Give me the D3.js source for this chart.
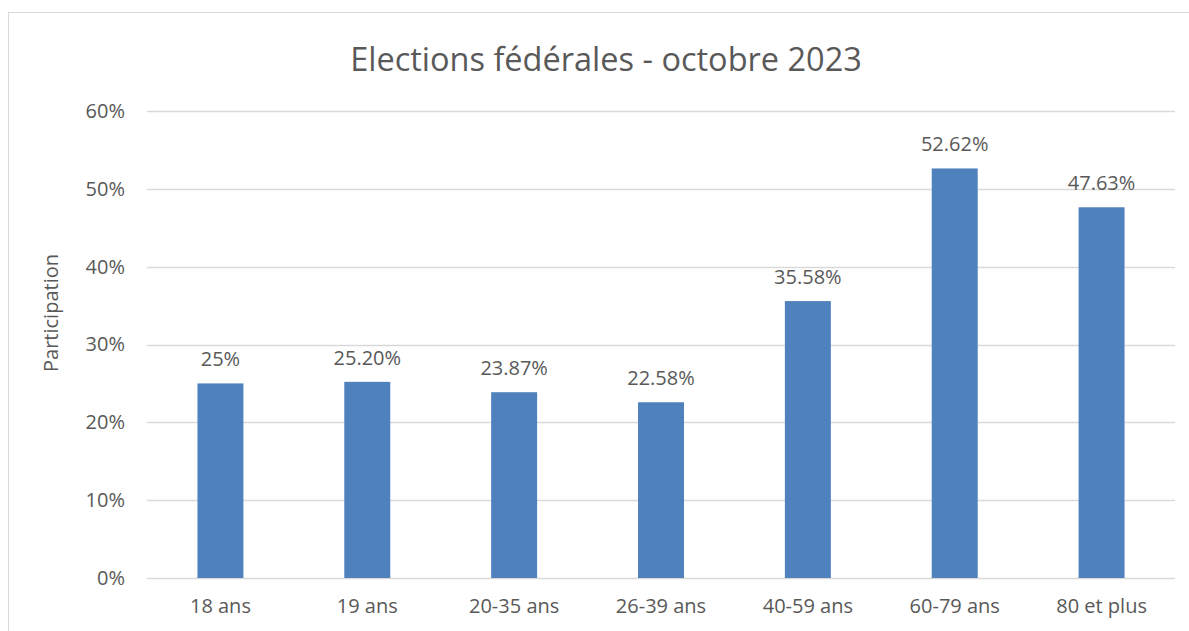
<!DOCTYPE html>
<meta charset="utf-8">
<style>
    body { margin: 0; background: #fff; }
    text { font-family: "Open Sans", sans-serif; fill: #595959; }
</style>
<div class="chart"></div>
<script src="https://cdn.jsdelivr.net/npm/d3@7"></script>
<script>
    // data
    var categories = ["18 ans", "19 ans", "20-35 ans", "26-39 ans", "40-59 ans", "60-79 ans", "80 et plus"];
    var values = [25, 25.20, 23.87, 22.58, 35.58, 52.62, 47.63];
    var labels = ["25%", "25.20%", "23.87%", "22.58%", "35.58%", "52.62%", "47.63%"];
    var yTicks = [0, 10, 20, 30, 40, 50, 60];

    var svgW = 1189, svgH = 631;
    var margin = {top: 111, right: 14, bottom: 53, left: 147};
    var width = svgW - margin.left - margin.right,
        height = svgH - margin.top - margin.bottom;

    var svg = d3.select(".chart").append("svg")
        .attr("width", svgW)
        .attr("height", svgH);

    // chart border
    svg.append("rect")
        .attr("x", 8.5).attr("y", 12.5)
        .attr("width", svgW).attr("height", svgH)
        .attr("fill", "none")
        .attr("stroke", "#d9d9d9");

    svg.append("text")
        .attr("x", 606).attr("y", 71)
        .attr("text-anchor", "middle")
        .style("font-size", "32.5px")
        .text("Elections fédérales - octobre 2023");

    var g = svg.append("g")
        .attr("transform", "translate(" + margin.left + "," + margin.top + ")");

    var x = d3.scaleBand().domain(categories).range([0, width]).padding(0);
    var y = d3.scaleLinear().domain([0, 60]).range([height, 0]);
    var barW = x.bandwidth() * 0.313;

    // grid
    g.selectAll(".grid")
        .data(yTicks)
        .enter().append("line")
        .attr("x1", 0).attr("x2", width)
        .attr("y1", function(d) { return Math.round(y(d)) + 0.5; })
        .attr("y2", function(d) { return Math.round(y(d)) + 0.5; })
        .attr("stroke", "#d9d9d9")
        .attr("stroke-width", 1.3);

    var yAxis = d3.axisLeft(y)
        .tickValues(yTicks)
        .tickSize(0)
        .tickPadding(22)
        .tickFormat(function(d) { return d + "%"; });

    g.append("g").call(yAxis)
        .call(function(s) { s.select(".domain").remove(); })
        .selectAll("text")
        .style("font-size", "20px")
        .attr("fill", "#595959");

    var xAxis = d3.axisBottom(x).tickSize(0).tickPadding(21);
    g.append("g")
        .attr("transform", "translate(0," + height + ")")
        .call(xAxis)
        .call(function(s) { s.select(".domain").remove(); })
        .selectAll("text")
        .style("font-size", "20px")
        .attr("fill", "#595959");

    g.selectAll(".bar")
        .data(values)
        .enter().append("rect")
        .attr("class", "bar")
        .attr("x", function(d, i) { return x(categories[i]) + x.bandwidth() / 2 - barW / 2; })
        .attr("y", function(d) { return y(d); })
        .attr("width", barW)
        .attr("height", function(d) { return height - y(d); })
        .attr("fill", "#4f81bd");

    g.selectAll(".lbl")
        .data(values)
        .enter().append("text")
        .attr("x", function(d, i) { return x(categories[i]) + x.bandwidth() / 2; })
        .attr("y", function(d) { return y(d) - 17; })
        .attr("text-anchor", "middle")
        .style("font-size", "20px")
        .attr("fill", "#404040")
        .text(function(d, i) { return labels[i]; });

    svg.append("text")
        .attr("transform", "translate(58,313) rotate(-90)")
        .attr("text-anchor", "middle")
        .style("font-size", "20px")
        .text("Participation");
</script>
